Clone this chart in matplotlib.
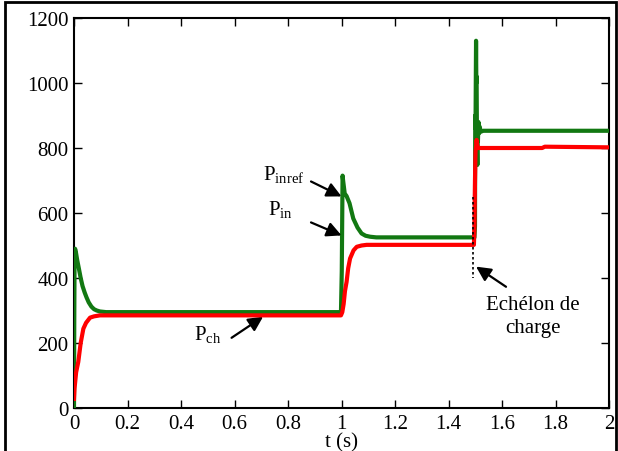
import matplotlib
matplotlib.use("Agg")
import matplotlib.pyplot as plt
from matplotlib.patches import Rectangle

plt.rcParams['font.family'] = ['Liberation Serif', 'DejaVu Serif']
plt.rcParams['mathtext.fontset'] = 'custom'
plt.rcParams['mathtext.rm'] = 'Liberation Serif'
plt.rcParams['mathtext.it'] = 'Liberation Serif'

# P_inref (green)
t_green = [0.0, 0.0005, 0.001, 0.002, 0.004, 0.007, 0.012, 0.018, 0.025, 0.032, 0.04, 0.047,
           0.055, 0.065, 0.075, 0.085, 0.097, 0.12,
           0.998, 1.001, 1.004, 1.006, 1.012, 1.019, 1.03, 1.044, 1.06, 1.075, 1.09, 1.107, 1.13,
           1.497, 1.499, 1.500, 1.501, 1.502, 1.503, 1.504, 1.505, 1.506, 1.507, 1.508, 1.509,
           1.510, 1.512, 1.514, 1.517, 1.52, 1.53, 2.0]
p_green = [0, 150, 270, 440, 490, 480, 455, 430, 400, 375, 355, 340,
           325, 312, 304, 300, 297, 295,
           295, 420, 715, 700, 660, 652, 630, 583, 555, 537, 530, 527, 525,
           525, 560, 900, 860, 1000, 1130, 1000, 1020, 880, 800, 748, 870,
           820, 880, 845, 865, 850, 853, 853]

# P_ch (red)
t_red = [0.0, 0.002, 0.008, 0.016, 0.025, 0.035, 0.045, 0.06, 0.075, 0.097, 0.12,
         0.998, 1.003, 1.008, 1.013, 1.019, 1.025, 1.032, 1.045, 1.057, 1.075, 1.094, 1.12,
         1.495, 1.497, 1.499, 1.501, 1.503, 1.505, 1.508, 1.512, 1.516, 1.75, 1.76, 2.0]
p_red = [28, 60, 110, 142, 200, 244, 262, 278, 282, 285, 285,
         285, 295, 320, 360, 388, 430, 460, 485, 496, 500, 502, 502,
         502, 560, 700, 790, 805, 825, 805, 800, 800, 800, 804, 802]

# Load step marker (dotted)
t_step = [1.493, 1.493]
p_step = [650, 400]

x_ticks = [0, 0.2, 0.4, 0.6, 0.8, 1.0, 1.2, 1.4, 1.6, 1.8, 2.0]
x_labels = ['0', '0.2', '0.4', '0.6', '0.8', '1', '1.2', '1.4', '1.6', '1.8', '2']
y_ticks = [0, 200, 400, 600, 800, 1000, 1200]

W, H = 618, 452
fig = plt.figure(figsize=(W / 100, H / 100), dpi=100)
ax = fig.add_axes([74 / W, 1 - 409 / H, (609 - 74) / W, (409 - 19) / H])

# outer frame
fig.patches.append(Rectangle((5 / W, -0.05), (616 - 5) / W, 1 - 3 / H + 0.05,
                             transform=fig.transFigure, fill=False,
                             edgecolor='black', linewidth=2, zorder=0))

ax.plot(t_green, p_green, color='#127812', lw=3.0, zorder=3, solid_joinstyle='round')
ax.plot(t_red, p_red, color='#ff0000', lw=3.0, zorder=4, solid_joinstyle='round')
ax.plot(t_step, p_step, color='black', lw=1.2, ls=(0, (1.5, 1.5)), zorder=5)

ax.set_xlim(0, 2)
ax.set_ylim(0, 1200)
ax.set_xticks(x_ticks)
ax.set_xticklabels(x_labels)
ax.set_yticks(y_ticks)
ax.tick_params(direction='in', length=6, width=1, top=True, right=True,
               labelsize=15, pad=4)
for s in ax.spines.values():
    s.set_linewidth(1.5)
ax.set_xlabel('t (s)', fontsize=15, labelpad=0)

ap = dict(arrowstyle='-|>', color='black', lw=1.6, mutation_scale=22,
          shrinkA=0, shrinkB=0)
ax.annotate('', xy=(1.0, 651), xytext=(0.886, 697), arrowprops=ap)
ax.annotate('', xy=(1.0, 531), xytext=(0.886, 571), arrowprops=ap)
ax.annotate('', xy=(0.707, 281), xytext=(0.589, 216), arrowprops=ap)
ax.annotate('', xy=(1.503, 435), xytext=(1.615, 373), arrowprops=ap)

ax.text(0.785, 722, r'P$_{\rm inref}$', fontsize=15, ha='center', va='center')
ax.text(0.77, 615, r'P$_{\rm in}$', fontsize=15, ha='center', va='center')
ax.text(0.50, 228, r'P$_{\rm ch}$', fontsize=15, ha='center', va='center')
ax.text(1.716, 284, 'Echélon de\ncharge', fontsize=15, ha='center', va='center',
        linespacing=1.3)

fig.savefig('out.png', dpi=100)
